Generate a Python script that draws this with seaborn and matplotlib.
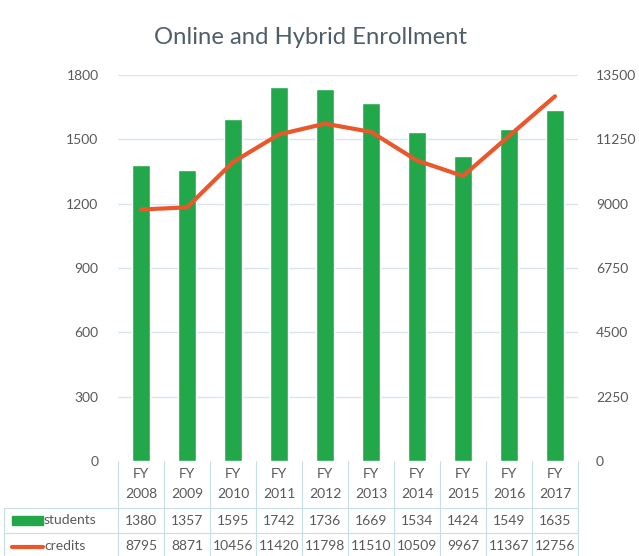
import numpy as np
import pandas as pd
import matplotlib
matplotlib.use("Agg")
import matplotlib.pyplot as plt
import seaborn as sns

years = ["2008", "2009", "2010", "2011", "2012", "2013", "2014", "2015", "2016", "2017"]
students = [1380, 1357, 1595, 1742, 1736, 1669, 1534, 1424, 1549, 1635]
credits = [8795, 8871, 10456, 11420, 11798, 11510, 10509, 9967, 11367, 12756]
left_ticks = [0, 300, 600, 900, 1200, 1500, 1800]
right_ticks = [0, 2250, 4500, 6750, 9000, 11250, 13500]

sns.set_theme(style="white")
plt.rcParams['font.family'] = ['Lato', 'DejaVu Sans']

GREEN = "#22A84A"
RED = "#E9572B"
TXT = "#595959"
TITLE = "#4F5F6A"
GRID = "#D9E6F2"
TBL = "#C8DCEC"

fig = plt.figure(figsize=(6.39, 5.56), dpi=100)
ax = fig.add_axes([118/639, 1-461/556, 460/639, 386/556])
df = pd.DataFrame({"year": years, "students": students})
sns.barplot(data=df, x="year", y="students", color=GREEN, width=0.4,
            saturation=1, ax=ax, zorder=2)
ax.set_xlim(-0.5, len(years) - 0.5)
ax.set_ylim(0, 1800)
ax.set_yticks(left_ticks)
ax.set_yticklabels([str(t) for t in left_ticks], color=TXT, fontsize=10)
ax.tick_params(axis="y", length=0, pad=14)
ax.set_xticks([])
ax.set_xlabel("")
ax.set_ylabel("")
for t in left_ticks[1:]:
    ax.axhline(t, color=GRID, lw=1, zorder=0)
for s in ax.spines.values():
    s.set_visible(False)

ax2 = ax.twinx()
sns.lineplot(x=np.arange(len(years)), y=credits, color=RED, lw=3, ax=ax2, zorder=3)
ax2.set_ylim(0, 13500)
ax2.set_yticks(right_ticks)
ax2.set_yticklabels([str(t) for t in right_ticks], color=TXT, fontsize=10)
ax2.tick_params(axis="y", length=0, pad=13)
ax2.set_ylabel("")
for s in ax2.spines.values():
    s.set_visible(False)
ax2.grid(False)

fig.text(311/639, 1-37/556, "Online and Hybrid Enrollment", ha="center", va="center",
         fontsize=17.2, color=TITLE)

# data table
def fy(ypx):
    return 1 - ypx/556

def fx(xpx):
    return xpx/639

x0, colw = 118, 46
for i in range(len(years) + 1):
    xx = x0 + i*colw
    fig.add_artist(plt.Line2D([fx(xx), fx(xx)], [fy(461), fy(556)], color=TBL, lw=0.8))
fig.add_artist(plt.Line2D([fx(4), fx(4)], [fy(508), fy(556)], color=TBL, lw=0.8))
for yy in [508, 533]:
    fig.add_artist(plt.Line2D([fx(4), fx(578)], [fy(yy), fy(yy)], color=TBL, lw=0.8))

for i, yr in enumerate(years):
    cx = x0 + colw*(i + 0.5)
    fig.text(fx(cx), fy(474), "FY", ha="center", va="center", fontsize=10, color=TXT)
    fig.text(fx(cx), fy(494), yr, ha="center", va="center", fontsize=10, color=TXT)
    fig.text(fx(cx), fy(521), str(students[i]), ha="center", va="center", fontsize=10, color=TXT)
    fig.text(fx(cx), fy(546), str(credits[i]), ha="center", va="center", fontsize=10, color=TXT)

fig.add_artist(plt.Rectangle((fx(12), fy(525)), fx(31), 9/556, color=GREEN, transform=fig.transFigure))
fig.text(fx(44), fy(520), "students", ha="left", va="center", fontsize=10, color=TXT)
fig.add_artist(plt.Line2D([fx(12), fx(43)], [fy(547), fy(547)], color=RED, lw=3))
fig.text(fx(44), fy(546), "credits", ha="left", va="center", fontsize=10, color=TXT)

fig.savefig("out.png", dpi=100)
